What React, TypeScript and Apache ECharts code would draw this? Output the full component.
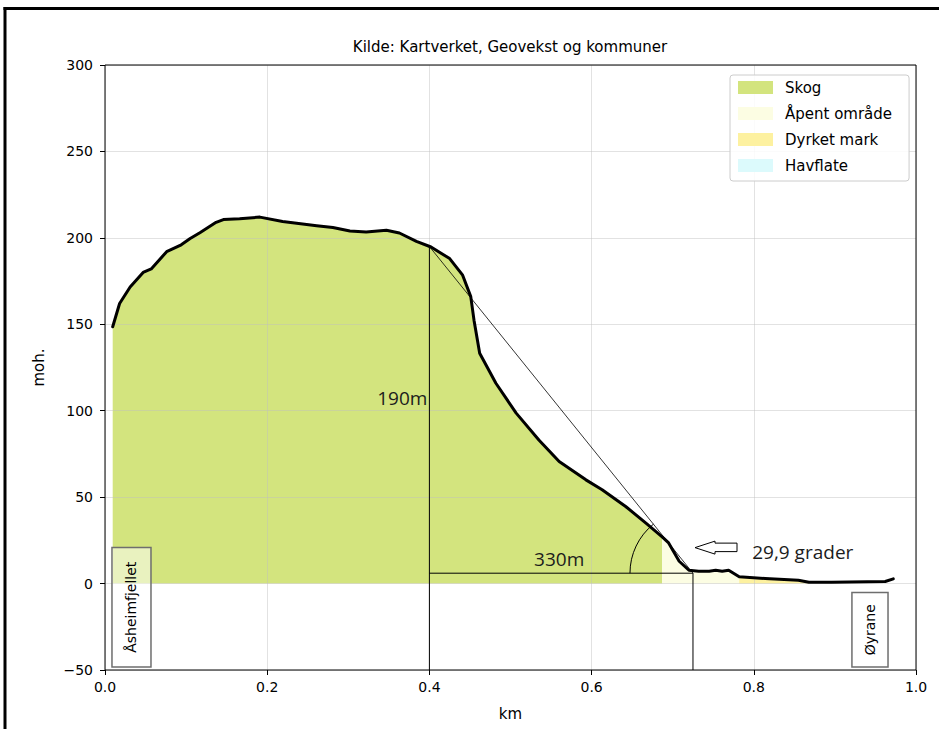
import React, { useEffect, useRef } from "react";
import * as echarts from "echarts";

// Terrain profile (km along the line, metres above sea level)
const profileKm = [
  0.0095, 0.018, 0.031, 0.047, 0.057, 0.076, 0.094, 0.105, 0.117, 0.137, 0.146,
  0.166, 0.191, 0.219, 0.261, 0.281, 0.302, 0.322, 0.347, 0.363, 0.384, 0.402,
  0.425, 0.441, 0.451, 0.455, 0.462, 0.482, 0.507, 0.535, 0.56, 0.593, 0.613,
  0.642, 0.667, 0.687, 0.695, 0.708, 0.72, 0.732, 0.745, 0.753, 0.761, 0.769,
  0.782, 0.814, 0.855, 0.868, 0.896, 0.962, 0.972,
];
const profileM = [
  148.6, 162, 171.6, 180, 182, 192, 196, 199.6, 203, 209, 210.6,
  211, 212, 209.5, 207, 206, 204, 203.4, 204.4, 202.8, 198, 194.7,
  188, 178.4, 166, 152.4, 133.2, 115.9, 98.6, 83.1, 70.6, 60, 54.3,
  44.6, 35, 27, 23.5, 12.9, 7.7, 7.1, 7.1, 7.7, 7.1, 7.7,
  3.9, 2.9, 1.9, 0.8, 0.8, 1.2, 2.7,
];

// Land cover classes and the km range each covers along the profile
const coverNames = ["Skog", "Åpent område", "Dyrket mark", "Havflate"];
const coverFromKm = [0.0, 0.687, 0.782, null];
const coverToKm = [0.687, 0.782, 0.868, null];

// Tick values
const xTicks = [0.0, 0.2, 0.4, 0.6, 0.8, 1.0];
const yTicks = [-50, 0, 50, 100, 150, 200, 250, 300];

// Slope annotation (km, m)
const slopeTopKm = 0.4;
const slopeTopM = 195;
const slopeFootKm = 0.725;
const slopeFootM = 6;
const heightLabel = "190m";
const lengthLabel = "330m";
const angleLabel = "29,9 grader";
const startName = "Åsheimfjellet";
const endName = "Øyrane";

const coverColors = ["#d3e47e", "#fcfde3", "#fdf1a0", "#dcfafc"];

function segment(from: number | null, to: number | null) {
  if (from === null || to === null) return [];
  const out: number[][] = [];
  profileKm.forEach((k, i) => {
    if (k >= from - 1e-9 && k <= to + 1e-9) out.push([k, profileM[i]]);
  });
  return out;
}

const FONT = "DejaVu Sans";
const NOTE_FONT = "Open Sans";

export default function App() {
  const ref = useRef<HTMLDivElement>(null);
  useEffect(() => {
    const chart = echarts.init(ref.current!, null, { renderer: "svg" });

    const coverSeries = coverNames.map((name, i) => ({
      name,
      type: "line",
      data: segment(coverFromKm[i], coverToKm[i]),
      showSymbol: false,
      symbol: "none",
      z: 1,
      silent: true,
      lineStyle: { width: 0, color: coverColors[i] },
      itemStyle: { color: coverColors[i] },
      areaStyle: { color: coverColors[i], opacity: 1, origin: "auto" },
    }));

    const option: any = {
      animation: false,
      backgroundColor: "#fff",
      title: {
        text: "Kilde: Kartverket, Geovekst og kommuner",
        left: 510,
        top: 39,
        padding: 0,
        textAlign: "center",
        textStyle: { fontFamily: FONT, fontSize: 15, fontWeight: "normal", color: "#000" },
      },
      legend: {
        data: coverNames,
        orient: "vertical",
        left: 730,
        top: 75,
        icon: "rect",
        itemWidth: 35,
        itemHeight: 13,
        itemGap: 11,
        padding: [5, 17, 8, 8],
        backgroundColor: "rgba(255,255,255,0.85)",
        borderColor: "#cccccc",
        borderWidth: 1,
        borderRadius: 3,
        selectedMode: false,
        textStyle: { fontFamily: FONT, fontSize: 15, color: "#000", padding: [0, 0, 0, 7] },
        z: 10,
      },
      grid: {
        left: 105,
        right: 23,
        top: 65,
        bottom: 59,
        show: true,
        borderColor: "#000",
        borderWidth: 1,
        backgroundColor: "transparent",
        z: 2.8,
      },
      xAxis: {
        type: "value",
        min: 0,
        max: 1,
        interval: 0.2,
        z: 2.5,
        name: "km",
        nameLocation: "middle",
        nameGap: 36,
        nameTextStyle: { fontFamily: FONT, fontSize: 15, color: "#000" },
        axisLine: { show: false, onZero: false },
        axisTick: { show: true, length: 5, lineStyle: { color: "#000" } },
        axisLabel: {
          fontFamily: FONT,
          fontSize: 14,
          color: "#000",
          margin: 10,
          formatter: (v: number) => (xTicks.some((t) => Math.abs(t - v) < 1e-9) ? v.toFixed(1) : ""),
        },
        splitLine: { show: true, lineStyle: { color: "rgba(190,190,190,0.45)", width: 1 } },
      },
      yAxis: {
        type: "value",
        min: -50,
        max: 300,
        interval: 50,
        z: 2.5,
        name: "moh.",
        nameLocation: "middle",
        nameGap: 59,
        nameTextStyle: { fontFamily: FONT, fontSize: 15, color: "#000" },
        axisLine: { show: false, onZero: false },
        axisTick: { show: true, length: 5, lineStyle: { color: "#000" } },
        axisLabel: {
          fontFamily: FONT,
          fontSize: 14,
          color: "#000",
          margin: 12,
          formatter: (v: number) =>
            yTicks.includes(v) ? (v < 0 ? "\u2212" + Math.abs(v) : String(v)) : "",
        },
        splitLine: { show: true, lineStyle: { color: "rgba(190,190,190,0.45)", width: 1 } },
      },
      graphic: [
        { type: "line", shape: { x1: 3.5, y1: 8.5, x2: 939, y2: 8.5 }, style: { stroke: "#000", lineWidth: 3 } },
        { type: "line", shape: { x1: 5, y1: 7, x2: 5, y2: 729 }, style: { stroke: "#000", lineWidth: 3 } },
      ],
      series: [
        ...coverSeries,
        {
          name: "profil",
          type: "line",
          data: profileKm.map((k, i) => [k, profileM[i]]),
          showSymbol: false,
          symbol: "none",
          z: 3,
          silent: true,
          lineStyle: { color: "#000", width: 3, join: "round", cap: "round" },
        },
        {
          name: "annotasjon",
          type: "custom",
          z: 4,
          silent: true,
          clip: false,
          data: [[slopeTopKm, slopeTopM]],
          renderItem: (_params: any, api: any) => {
            const c = (x: number, y: number) => api.coord([x, y]);
            const top = c(slopeTopKm, slopeTopM);
            const foot = c(slopeFootKm, slopeFootM);
            const corner = c(slopeTopKm, slopeFootM);
            const bottomL = c(slopeTopKm, -50);
            const bottomR = c(slopeFootKm, -50);
            const thin = { stroke: "#000", lineWidth: 1 };
            const ang = Math.atan2(top[1] - foot[1], top[0] - foot[0]);
            const tip = c(0.7275, 20.8);
            const tx = tip[0];
            const ty = tip[1];
            const arrow = [
              [tx, ty],
              [tx + 20, ty - 6.5],
              [tx + 20, ty - 4.5],
              [tx + 42, ty - 4.5],
              [tx + 42, ty + 4],
              [tx + 20, ty + 4],
              [tx + 20, ty + 6.5],
            ];
            const hLab = c(slopeTopKm, 107.5);
            const lLab = c(0.56, 14);
            const aLab = c(0.798, 18);
            const b1a = c(0.0086, 20.8);
            const b1b = c(0.0567, -48.2);
            const b2a = c(0.921, -5.2);
            const b2b = c(0.9655, -48.2);
            const noteText = (x: number, y: number, text: string, align: string) => ({
              type: "text",
              x,
              y,
              style: {
                text,
                fontFamily: NOTE_FONT,
                fontSize: 19,
                fill: "#1c1c1c",
                align,
                verticalAlign: "middle",
              },
            });
            const box = (a: number[], b: number[], text: string) => [
              {
                type: "rect",
                shape: { x: a[0], y: a[1], width: b[0] - a[0], height: b[1] - a[1] },
                style: { fill: "rgba(255,255,255,0.5)", stroke: "#6e6e6e", lineWidth: 1.5 },
              },
              {
                type: "text",
                x: (a[0] + b[0]) / 2,
                y: (a[1] + b[1]) / 2,
                rotation: Math.PI / 2,
                style: {
                  text,
                  fontFamily: FONT,
                  fontSize: 14,
                  fill: "#000",
                  align: "center",
                  verticalAlign: "middle",
                },
              },
            ];
            return {
              type: "group",
              children: [
                { type: "line", shape: { x1: top[0], y1: top[1], x2: bottomL[0], y2: bottomL[1] }, style: thin },
                { type: "line", shape: { x1: corner[0], y1: corner[1], x2: foot[0], y2: foot[1] }, style: thin },
                { type: "line", shape: { x1: foot[0], y1: foot[1], x2: bottomR[0], y2: bottomR[1] }, style: thin },
                { type: "line", shape: { x1: top[0], y1: top[1], x2: foot[0], y2: foot[1] }, style: { stroke: "#000", lineWidth: 0.8 } },
                {
                  type: "arc",
                  shape: { cx: foot[0], cy: foot[1], r: 63, startAngle: Math.PI, endAngle: ang + 2 * Math.PI, clockwise: true },
                  style: { stroke: "#000", fill: "none", lineWidth: 1 },
                },
                { type: "polygon", shape: { points: arrow }, style: { fill: "#fff", stroke: "#000", lineWidth: 1 } },
                noteText(hLab[0] - 2, hLab[1], heightLabel, "right"),
                noteText(lLab[0], lLab[1], lengthLabel, "center"),
                noteText(aLab[0], aLab[1], angleLabel, "left"),
                ...box(b1a, b1b, startName),
                ...box(b2a, b2b, endName),
              ],
            };
          },
        },
      ],
    };

    chart.setOption(option);
    return () => chart.dispose();
  }, []);
  return (
    <div
      ref={ref}
      style={{ position: "absolute", left: 0, top: 0, width: 939, height: 729, background: "#fff" }}
    />
  );
}
